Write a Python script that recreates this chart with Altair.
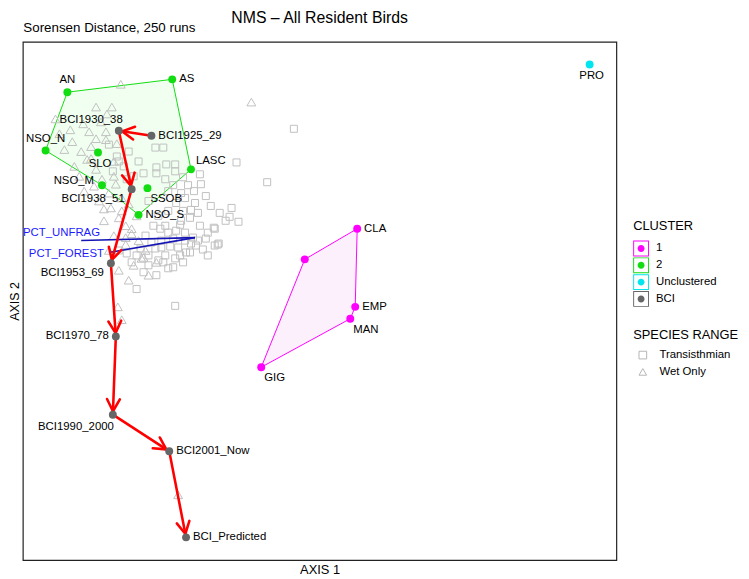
import math
import altair as alt
import pandas as pd

FONT = "Liberation Sans"

# ---------------- data (picture units) ----------------
pt_names = ["AN", "AS", "NSO_N", "SLO", "LASC", "NSO_M", "SSOB", "NSO_S",
            "CLA", "", "EMP", "MAN", "GIG",
            "PRO",
            "BCI1925_29", "BCI1930_38", "BCI1938_51", "BCI1953_69",
            "BCI1970_78", "BCI1990_2000", "BCI2001_Now", "BCI_Predicted"]
pt_x = [68, 174, 46, 99, 193, 103, 149, 140,
        361, 308, 359, 354, 264,
        596,
        153, 120, 133, 112, 117, 114, 171, 188]
pt_y = [90, 77, 149, 151, 168, 184, 187, 214,
        228, 259, 307, 319, 368,
        62,
        134, 129, 188, 263, 337, 416, 453, 540]
pt_cluster = ["2"] * 8 + ["1"] * 5 + ["Unclustered"] + ["BCI"] * 8

cluster_levels = ["1", "2", "Unclustered", "BCI"]
cluster_colors = ["#ff00ff", "#11dd11", "#00e5ee", "#666666"]

hull_1 = ["CLA", "EMP", "MAN", "GIG", ""]
hull_2 = ["NSO_N", "AN", "AS", "LASC", "NSO_S", "NSO_M"]
trajectory = ["BCI1925_29", "BCI1930_38", "BCI1938_51", "BCI1953_69",
              "BCI1970_78", "BCI1990_2000", "BCI2001_Now", "BCI_Predicted"]

vec_names = ["PCT_UNFRAG", "PCT_FOREST"]
vec_x0 = [197, 197]
vec_y0 = [237, 237]
vec_x1 = [82, 110]
vec_y1 = [240, 252]

range_levels = ["Transisthmian", "Wet Only"]

trans_x = [297, 157, 165, 239, 140, 158, 168, 177, 177, 202,
           110, 270, 234, 232, 241, 222, 221, 216, 220, 205,
           200, 138, 177, 217, 175, 170, 177, 160, 167, 138,
           128, 147, 157, 163, 180, 187, 193, 192, 198, 217,
           228, 203, 208, 213, 197, 183, 192, 202, 178, 187,
           195, 175, 170, 167, 163, 153, 158, 167, 175, 183,
           178, 170, 190, 187, 193, 185, 196, 160, 155, 150,
           145, 130, 125, 135, 170, 185, 200, 210, 182, 150,
           162, 172, 182, 188, 208, 120, 114, 118, 128, 142,
           150, 120, 133, 145, 158, 165, 185, 210]
trans_y = [127, 146, 146, 161, 160, 166, 163, 163, 170, 173,
           143, 181, 207, 216, 221, 212, 243, 227, 244, 249,
           240, 289, 306, 245, 267, 268, 258, 260, 255, 255,
           253, 235, 248, 247, 247, 240, 243, 252, 245, 228,
           220, 183, 195, 205, 202, 220, 217, 225, 230, 232,
           237, 238, 232, 225, 240, 242, 172, 178, 184, 192,
           202, 210, 184, 197, 209, 176, 190, 215, 225, 200,
           172, 150, 165, 175, 190, 210, 212, 232, 255, 265,
           228, 246, 224, 252, 238, 160, 170, 155, 178, 248,
           255, 250, 262, 272, 275, 262, 262, 255]
wet_x = [122, 254, 97, 113, 56, 108, 71, 73, 97, 107,
         107, 118, 92, 75, 88, 97, 115, 117, 110, 123,
         112, 123, 130, 120, 127, 133, 127, 140, 145, 158,
         127, 133, 119, 123, 180, 84, 102, 92, 65, 80,
         100, 105, 115, 110, 135, 150, 120, 130, 103, 85,
         143, 147, 105, 90, 60, 115, 82, 95, 138]
wet_y = [82, 100, 105, 105, 117, 112, 128, 140, 137, 130,
         138, 142, 157, 165, 158, 168, 175, 183, 192, 197,
         207, 210, 203, 217, 225, 228, 237, 240, 257, 262,
         244, 233, 307, 320, 497, 122, 120, 145, 148, 175,
         200, 220, 235, 250, 265, 275, 270, 280, 178, 190,
         258, 250, 208, 130, 132, 160, 150, 185, 215]

# ---------------- label placement (style) ----------------
label_side = {
    "AN": "above", "AS": "right", "NSO_N": "above", "SLO": "below",
    "LASC": "rightup", "NSO_M": "leftup", "SSOB": "belowright", "NSO_S": "right",
    "CLA": "right", "": "none", "EMP": "right", "MAN": "belowright", "GIG": "belowright",
    "PRO": "below",
    "BCI1925_29": "right", "BCI1930_38": "aboveleft", "BCI1938_51": "belowleft",
    "BCI1953_69": "belowleft", "BCI1970_78": "left", "BCI1990_2000": "belowleft2",
    "BCI2001_Now": "right", "BCI_Predicted": "right",
    "PCT_UNFRAG": "vec_unfrag", "PCT_FOREST": "vec_forest",
}
side_style = {
    "right": ("left", 7, 0), "left": ("right", -7, 0),
    "above": ("center", 0, -12), "below": ("center", 2, 12),
    "rightup": ("left", 5, -8), "leftup": ("right", -8, -4),
    "belowright": ("left", 3, 11), "aboveleft": ("right", 4, -11),
    "belowleft": ("right", -7, 10), "belowleft2": ("right", 1, 12),
    "vec_unfrag": ("right", 19, -8), "vec_forest": ("right", -5, 2),
}

# ---------------- tables ----------------
pts = pd.DataFrame({"name": pt_names, "x": pt_x, "y": pt_y, "cluster": pt_cluster})
pts["side"] = pts["name"].map(label_side)
lookup = {n: (x, y) for n, x, y in zip(pt_names, pt_x, pt_y)}


def hull_df(names):
    seq = names + [names[0]]
    return pd.DataFrame({"x": [lookup[n][0] for n in seq],
                         "y": [lookup[n][1] for n in seq],
                         "ord": list(range(len(seq)))})


segs = []
for a, b in zip(trajectory[:-1], trajectory[1:]):
    x0, y0 = lookup[a]
    x1, y1 = lookup[b]
    dx, dy = x1 - x0, y1 - y0
    L = math.hypot(dx, dy)
    ex, ey = x1 - dx / L * 3.5, y1 - dy / L * 3.5
    ang = math.degrees(math.atan2(dx, -dy)) % 360
    segs.append({"x0": x0, "y0": y0, "x1": ex, "y1": ey, "ang": ang})
segs = pd.DataFrame(segs)

vecs = pd.DataFrame({"name": vec_names, "x0": vec_x0, "y0": vec_y0, "x": vec_x1, "y": vec_y1})
vecs["side"] = vecs["name"].map(label_side)

trans_df = pd.DataFrame({"x": trans_x, "y": trans_y, "range": range_levels[0]})
wet_df = pd.DataFrame({"x": wet_x, "y": wet_y, "range": range_levels[1]})

# ---------------- scales / axes ----------------
W, H = 600, 524
xsc = alt.Scale(domain=[23, 623], nice=False, zero=False)
ysc = alt.Scale(domain=[39, 563], nice=False, zero=False, reverse=True)


def X(field="x", axis=None):
    return alt.X(f"{field}:Q", scale=xsc, axis=axis)


def Y(field="y", axis=None):
    return alt.Y(f"{field}:Q", scale=ysc, axis=axis)


axis_bottom = alt.Axis(orient="bottom", title="AXIS 1", domain=False, ticks=False, labels=False,
                       grid=False, titleFontSize=13, titleFontWeight="normal", titleColor="black",
                       titleFont=FONT, titlePadding=4, titleBaseline="top")
axis_top = alt.Axis(orient="top", title="Sorensen Distance, 250 runs", domain=False, ticks=False,
                    labels=False, grid=False, titleFontSize=13.5, titleFontWeight="normal",
                    titleColor="black", titleFont=FONT, titlePadding=10, titleAnchor="start",
                    titleAlign="left", titleBaseline="alphabetic")
axis_left = alt.Axis(orient="left", title="AXIS 2", domain=False, ticks=False, labels=False,
                     grid=False, titleFontSize=12.5, titleFontWeight="normal", titleColor="black",
                     titleFont=FONT, titleAngle=270, titleBaseline="alphabetic",
                     titleAlign="center", titleX=-4, titleY=H / 2)

ARROW = "M -0.47 0.88 L 0 0 L 0.47 0.88"
BOX = ("M -1 -1 L 1 -1 L 1 1 L -1 1 Z "
       "M -0.88 -0.88 L -0.88 0.88 L 0.88 0.88 L 0.88 -0.88 Z "
       "M 0.44 0 A 0.44 0.44 0 1 1 -0.44 0 A 0.44 0.44 0 1 1 0.44 0 Z")

shape_enc = alt.Shape(
    "range:N",
    scale=alt.Scale(domain=range_levels, range=["square", "triangle-up"]),
    legend=alt.Legend(title="SPECIES RANGE", orient="none", legendX=617, legendY=290,
                      titleFontSize=13, titleFontWeight="normal", titleColor="black",
                      titleFont=FONT, titlePadding=8, labelFontSize=11.5, labelFont=FONT,
                      labelColor="black", symbolSize=60, symbolStrokeColor="#b5b5b5",
                      symbolStrokeWidth=1, symbolOffset=4, labelOffset=11,
                      rowPadding=4, padding=0))

# ---------------- layers ----------------
hull1 = alt.Chart(hull_df(hull_1)).mark_line(
    fill="#fdf0fd", stroke="#ff00ff", strokeWidth=1).encode(x=X(), y=Y(), order="ord:Q")
hull2 = alt.Chart(hull_df(hull_2)).mark_line(
    fill="#f0fff0", stroke="#11dd11", strokeWidth=1).encode(x=X(), y=Y(), order="ord:Q")

trans_pts = alt.Chart(trans_df).mark_point(filled=False, strokeWidth=1, color="#c0c0c0", opacity=1,
                                           size=50).encode(
    x=X(axis=axis_top), y=Y(axis=axis_left), shape=shape_enc)
wet_pts = alt.Chart(wet_df).mark_point(filled=False, strokeWidth=1, color="#c0c0c0", opacity=1,
                                       size=80).encode(
    x=X(), y=Y(), shape=shape_enc)

vec_lines = alt.Chart(vecs).mark_rule(color="#1515b5", strokeWidth=1.6).encode(
    x=X("x0"), y=Y("y0"), x2="x:Q", y2="y:Q")

arrows = alt.Chart(segs).mark_rule(color="#ff0000", strokeWidth=2.6, strokeCap="round").encode(
    x=X("x0"), y=Y("y0"), x2="x1:Q", y2="y1:Q")
heads = alt.Chart(segs).mark_point(shape=ARROW, size=760, filled=False, color="#ff0000",
                                   strokeWidth=2.6, opacity=1, strokeCap="round").encode(
    x=X("x1"), y=Y("y1"), angle=alt.Angle("ang:Q", scale=None))

col_pts = alt.Chart(pts).mark_point(shape="circle", filled=True, size=64, opacity=1, strokeWidth=0).encode(
    x=X(axis=axis_bottom), y=Y(),
    fill=alt.Fill("cluster:N", scale=alt.Scale(domain=cluster_levels, range=cluster_colors),
                  legend=alt.Legend(title="CLUSTER", orient="none", legendX=617, legendY=180,
                                    titleFontSize=13, titleFontWeight="normal", titleColor="black",
                                    titleFont=FONT, titlePadding=8, labelFontSize=11.5, labelFont=FONT,
                                    labelColor="black", symbolType=BOX, symbolSize=256,
                                    symbolStrokeWidth=0, symbolOpacity=1, labelOffset=7,
                                    rowPadding=1, padding=0)),
)


def label_layer(df, side, color="black"):
    align, dx, dy = side_style[side]
    return alt.Chart(df).transform_filter(alt.datum.side == side).mark_text(
        align=align, baseline="middle", dx=dx, dy=dy, fontSize=11.5, font=FONT, color=color
    ).encode(x=X(), y=Y(), text="name:N")


pt_sides = ["right", "left", "above", "below", "rightup", "leftup", "belowright",
            "aboveleft", "belowleft", "belowleft2"]
labels = [label_layer(pts, s) for s in pt_sides]
vec_labels = [label_layer(vecs, s, color="#1a1aff") for s in ["vec_unfrag", "vec_forest"]]

chart = alt.layer(
    hull1, hull2, trans_pts, wet_pts, vec_lines, arrows, heads, col_pts, *labels, *vec_labels
).resolve_axis(x="independent", y="independent").properties(
    width=W, height=H,
    padding={"left": 15, "top": 31, "right": 126, "bottom": 16},
    autosize=alt.AutoSizeParams(type="none"),
    title=alt.TitleParams(text="NMS – All Resident Birds", fontSize=16, fontWeight="normal",
                          font=FONT, color="black", anchor="middle", baseline="alphabetic", offset=-18),
).configure(font=FONT).configure_view(stroke="#222222", strokeWidth=1.2)

chart.save("out.html", embed_options={"renderer": "svg", "actions": False})
